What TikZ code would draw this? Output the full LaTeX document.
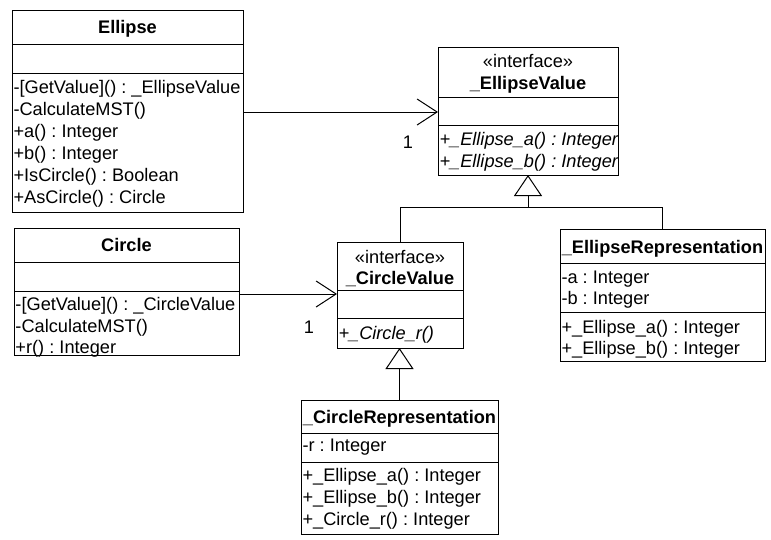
\documentclass[tikz,border=0pt]{standalone}
\usepackage{fontspec}
\setmainfont{Liberation Sans}
\usetikzlibrary{arrows.meta}
\frenchspacing
\begin{document}
\begin{tikzpicture}[x=1pt,y=-1pt,
  every node/.style={font=\fontsize{18.2}{22}\selectfont, inner sep=0pt, outer sep=0pt},
  classbox/.style={draw, line width=1pt, anchor=north west},
  member/.style={anchor=base west},
  cname/.style={anchor=base, font=\fontsize{18.2}{22}\selectfont\bfseries},
  stereo/.style={anchor=base},
  absop/.style={anchor=base west, font=\fontsize{18.2}{22}\selectfont\itshape},
  sep/.style={line width=1pt},
  assoc/.style={line width=1pt, -{Straight Barb[length=20pt,width=26pt,line width=1pt]}},
  inherit/.style={line width=1pt, -{Triangle[open,length=21pt,width=28pt,line width=1pt]}},
  mult/.style={anchor=base}]
\useasboundingbox (0,0) rectangle (771,539);

% ---------- Ellipse ----------
\node[classbox, minimum width=231pt, minimum height=202pt] (ellipse) at (12,10) {};
\draw[sep] (12,44) -- (243,44);
\draw[sep] (12,73) -- (243,73);
\node[cname] (ellname) at (127.5,33) {Ellipse};
\node[member] (e1) at (13.5,93)  {-[GetValue]() : \_EllipseValue};
\node[member] (e2) at (13.5,115) {-CalculateMST()};
\node[member] (e3) at (13.5,137) {+a() : Integer};
\node[member] (e4) at (13.5,159) {+b() : Integer};
\node[member] (e5) at (13.5,181) {+IsCircle() : Boolean};
\node[member] (e6) at (13.5,203) {+AsCircle() : Circle};

% ---------- _EllipseValue ----------
\node[classbox, minimum width=180pt, minimum height=128pt] (ellval) at (438,47) {};
\draw[sep] (438,97) -- (618,97);
\draw[sep] (438,125) -- (618,125);
\node[stereo] (evst) at (528,67) {«interface»};
\node[cname] (evname) at (528,89) {\_EllipseValue};
\node[absop] (ev1) at (439.5,145) {+\_Ellipse\_a() : Integer};
\node[absop] (ev2) at (439.5,167) {+\_Ellipse\_b() : Integer};

% ---------- Circle ----------
\node[classbox, minimum width=225pt, minimum height=127pt] (circle) at (14,228) {};
\draw[sep] (14,262) -- (239,262);
\draw[sep] (14,291) -- (239,291);
\node[cname] (cname1) at (126.5,251) {Circle};
\node[member] (c1) at (15.5,310) {-[GetValue]() : \_CircleValue};
\node[member] (c2) at (15.5,332) {-CalculateMST()};
\node[member] (c3) at (15.5,353) {+r() : Integer};

% ---------- _CircleValue ----------
\node[classbox, minimum width=126pt, minimum height=106pt] (cval) at (337,242) {};
\draw[sep] (337,290) -- (463,290);
\draw[sep] (337,318) -- (463,318);
\node[stereo] (cvst) at (400,263) {«interface»};
\node[cname] (cvname) at (400,284) {\_CircleValue};
\node[absop] (cv1) at (338.5,339) {+\_Circle\_r()};

% ---------- _EllipseRepresentation ----------
\node[classbox, minimum width=205pt, minimum height=132pt] (erep) at (560,229) {};
\draw[sep] (560,263) -- (765,263);
\draw[sep] (560,312) -- (765,312);
\node[cname] (ername) at (662.5,253) {\_EllipseRepresentation};
\node[member] (er1) at (561.5,283) {-a : Integer};
\node[member] (er2) at (561.5,304) {-b : Integer};
\node[member] (er3) at (561.5,333) {+\_Ellipse\_a() : Integer};
\node[member] (er4) at (561.5,354) {+\_Ellipse\_b() : Integer};

% ---------- _CircleRepresentation ----------
\node[classbox, minimum width=197pt, minimum height=134pt] (crep) at (301,400) {};
\draw[sep] (301,433) -- (498,433);
\draw[sep] (301,462) -- (498,462);
\node[cname] (crname) at (399.5,423) {\_CircleRepresentation};
\node[member] (cr1) at (302.5,451) {-r : Integer};
\node[member] (cr2) at (302.5,481) {+\_Ellipse\_a() : Integer};
\node[member] (cr3) at (302.5,503) {+\_Ellipse\_b() : Integer};
\node[member] (cr4) at (302.5,525) {+\_Circle\_r() : Integer};

% ---------- associations ----------
\coordinate (ey) at (0,112);
\coordinate (cy) at (0,294);
\draw[assoc] (ellipse.east |- ey) -- (ellval.west |- ey);
\node[mult] (m1) at (408,148) {1};
\draw[assoc] (circle.east |- cy) -- (cval.west |- cy);
\node[mult] (m2) at (309,333) {1};

% ---------- generalizations ----------
\coordinate (jy) at (0,207);
\draw[inherit] (cval.north) -- (cval.north |- jy) -- (ellval.south |- jy) -- (ellval.south);
\draw[line width=1pt] (erep.north) -- (erep.north |- jy) -- (ellval.south |- jy);
\draw[inherit] (crep.north) -- (crep.north |- cval.south);
\end{tikzpicture}
\end{document}
